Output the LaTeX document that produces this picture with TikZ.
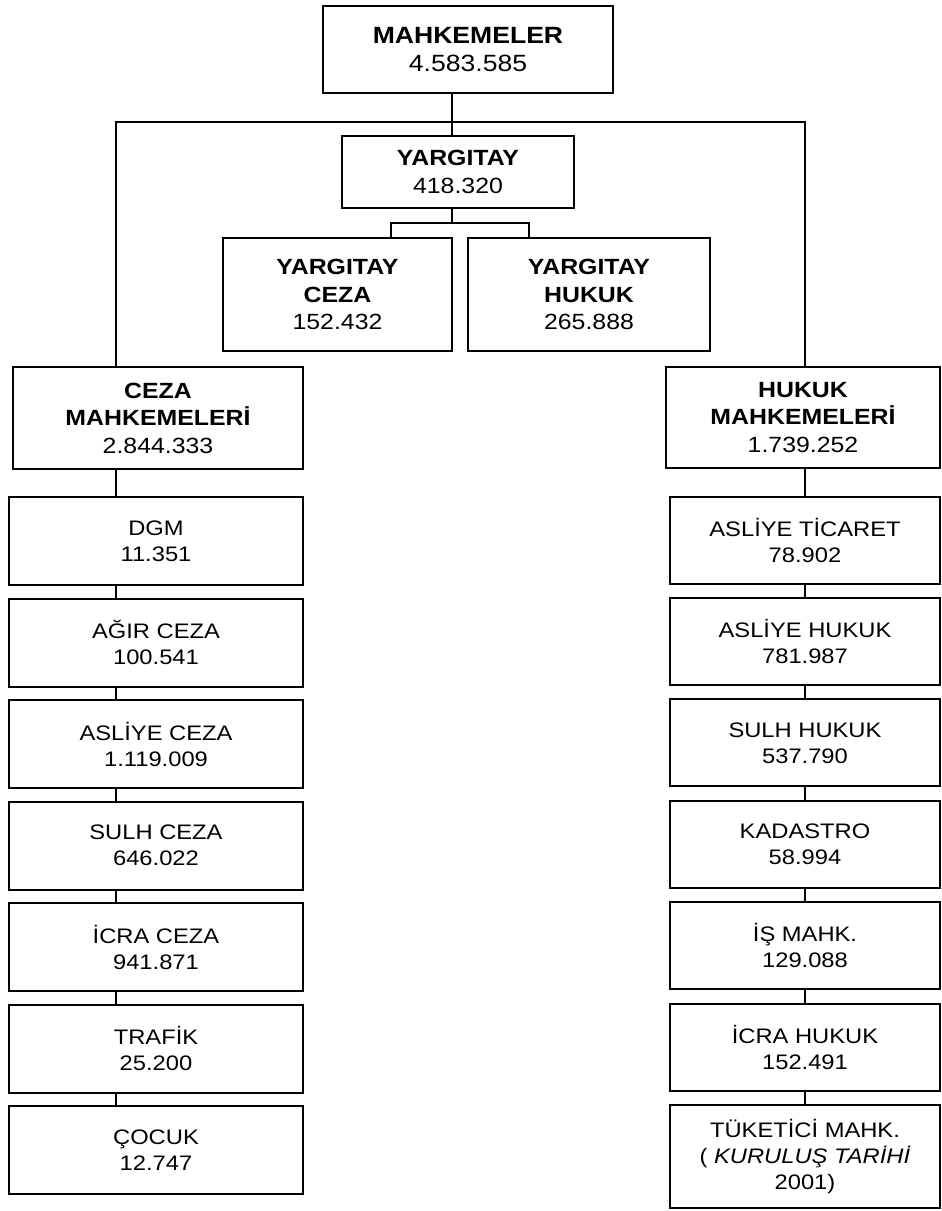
\documentclass[tikz,border=0pt]{standalone}
\usepackage{fontspec}
\setmainfont{Liberation Sans}[FakeStretch=1.13]
\usetikzlibrary{positioning}

\tikzset{
  box/.style={draw,line width=2pt,align=center,inner sep=0pt,font=\fontsize{21}{26}\selectfont},
  head/.style={box,font=\fontsize{22}{27.5}\selectfont},
  wh/.style 2 args={minimum width=#1pt,minimum height=#2pt},
  link/.style={line width=2pt}
}

\begin{document}
\begin{tikzpicture}[x=1pt,y=-1pt]
\useasboundingbox (0,0) rectangle (942,1211);
\coordinate (colL) at (116,0);
\coordinate (colR) at (805,0);
\coordinate (busL) at (116,122);
\coordinate (busR) at (805,122);
\coordinate (brL) at (391,223);
\coordinate (brR) at (529,223);
\coordinate (brM) at (452,223);
\coordinate (topM) at (452,0);

\node[box,wh={290}{87},font=\fontsize{23.5}{28}\selectfont] (mahk) at (468,49.5) {\textbf{MAHKEMELER}\\4.583.585};
\node[head,wh={232}{72}] (yarg) at (458,172) {\textbf{YARGITAY}\\418.320};
\node[head,wh={229}{113}] (yceza) at (337.5,294.5) {\textbf{YARGITAY}\\\textbf{CEZA}\\152.432};
\node[head,wh={242}{113}] (yhukuk) at (589,294.5) {\textbf{YARGITAY}\\\textbf{HUKUK}\\265.888};
\node[head,wh={290}{102}] (ceza) at (158,418) {\textbf{CEZA}\\\textbf{MAHKEMELERİ}\\2.844.333};
\node[head,wh={274}{101}] (hukuk) at (803,417.5) {\textbf{HUKUK}\\\textbf{MAHKEMELERİ}\\1.739.252};

% ceza mahkemeleri
\foreach \name/\num [count=\i] in {DGM/11.351,AĞIR CEZA/100.541,ASLİYE CEZA/1.119.009,
  SULH CEZA/646.022,İCRA CEZA/941.871,TRAFİK/25.200,ÇOCUK/12.747}
  \node[box,wh={294}{88}] (l\i) at (156,{541+101.5*(\i-1)}) {\name\\\num};

% hukuk mahkemeleri
\foreach \name/\num [count=\i] in {ASLİYE TİCARET/78.902,ASLİYE HUKUK/781.987,SULH HUKUK/537.790,
  KADASTRO/58.994,İŞ MAHK./129.088,İCRA HUKUK/152.491}
  \node[box,wh={270}{87}] (r\i) at (805,{540+101.4*(\i-1)}) {\name\\\num};
\node[box,wh={270}{103}] (r7) at (805,1156.5) {TÜKETİCİ MAHK.\\( \textit{KURULUŞ TARİHİ}\\2001)};

\draw[link] (topM |- mahk.south) -- (topM |- yarg.north);
\draw[link] (busL |- ceza.north) -- (busL) -- (busR) -- (busR |- hukuk.north);
\draw[link] (brM |- yarg.south) -- (brM);
\draw[link] (brL |- yceza.north) -- (brL) -- (brR) -- (brR |- yhukuk.north);
\draw[link] (colL |- ceza.south) -- (colL |- l1.north)
  (colR |- hukuk.south) -- (colR |- r1.north);
\foreach \i in {1,...,6}{
  \pgfmathtruncatemacro\j{\i+1}
  \draw[link] (colL |- l\i.south) -- (colL |- l\j.north)
    (colR |- r\i.south) -- (colR |- r\j.north);
}
\end{tikzpicture}
\end{document}
